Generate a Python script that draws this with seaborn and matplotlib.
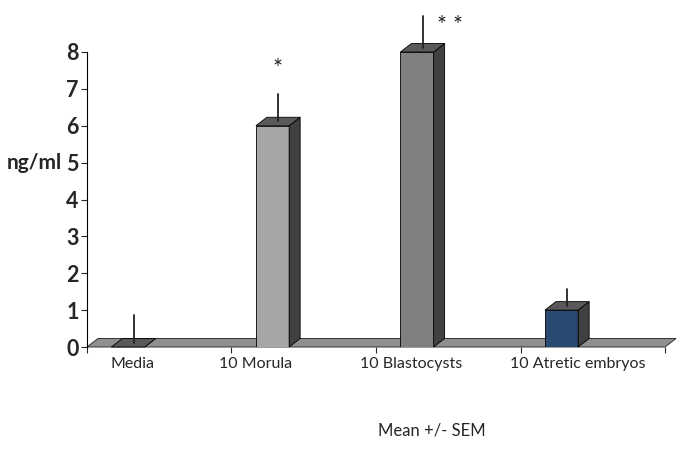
import numpy as np
import seaborn as sns
import matplotlib.pyplot as plt
from matplotlib.patches import Polygon
from matplotlib.ticker import FixedLocator

# --- 데이터 ---
categories = ["Media", "10 Morula", "10 Blastocysts", "10 Atretic embryos"]
mean_values = [0.0, 6.0, 8.0, 1.0]
sem_values = [0.75, 0.75, 0.87, 0.45]
marks = ["", "*", "* *", ""]
front_colors = ["#5a5a5a", "#a6a6a6", "#808080", "#1f497d"]

sns.set_style("white")
plt.rcParams["font.family"] = ["Lato", "DejaVu Sans"]

fig = plt.figure(figsize=(6.85, 4.5), dpi=100)
W, H = 685, 450
ax = fig.add_axes([87 / W, 1 - 347 / H, (665 - 87) / W, (347 - 52) / H])

sns.barplot(x=categories, y=mean_values, hue=categories, palette=front_colors,
            width=0.23, legend=False, ax=ax, edgecolor="black", linewidth=0.6,
            zorder=3)

x_lo, x_hi = -0.284, 3.716
ax.set_xlim(x_lo, x_hi)
ax.set_ylim(0, 8)

# 3D 깊이 (픽셀 -> 데이터 단위)
px_x = (665 - 87) / (x_hi - x_lo)
px_y = (347 - 52) / 8
dx = 11 / px_x
dy = 8.5 / px_y

# 바닥 (floor)
floor = Polygon([(x_lo, 0), (x_hi, 0), (x_hi + dx, dy), (x_lo + dx, dy)],
                closed=True, facecolor="#8f8f8f", edgecolor="#333333",
                linewidth=0.7, zorder=1, clip_on=False)
ax.add_patch(floor)

for bar, h, sem, mark in zip(ax.patches, mean_values, sem_values, marks):
    x0 = bar.get_x()
    w = bar.get_width()
    top = Polygon([(x0, h), (x0 + w, h), (x0 + w + dx, h + dy), (x0 + dx, h + dy)],
                  closed=True, facecolor="#595959", edgecolor="black",
                  linewidth=0.6, zorder=4, clip_on=False)
    side = Polygon([(x0 + w, 0), (x0 + w + dx, dy), (x0 + w + dx, h + dy), (x0 + w, h)],
                   closed=True, facecolor="#404040", edgecolor="black",
                   linewidth=0.6, zorder=4, clip_on=False)
    ax.add_patch(side)
    ax.add_patch(top)
    xc = x0 + w / 2 + dx / 2
    ax.plot([xc, xc], [h + dy / 2, h + dy / 2 + sem], color="#222222",
            linewidth=1.3, zorder=5, clip_on=False)
    if mark == "*":
        ax.text(xc, h + sem + 0.8, mark, ha="center", va="center",
                fontsize=17, color="#222222")
    elif mark:
        ax.text(xc + 0.19, h + sem - 0.15, mark, ha="center", va="center",
                fontsize=17, color="#222222")

# 축 스타일
for s in ["top", "right", "bottom"]:
    ax.spines[s].set_visible(False)
ax.spines["left"].set_color("black")
ax.spines["left"].set_linewidth(0.8)
ax.set_yticks(range(0, 9))
ax.tick_params(axis="y", left=True, length=4, width=0.8, pad=2,
               labelsize=15.5)
for lab in ax.get_yticklabels():
    lab.set_fontweight("bold")

# 3D 투영 때문에 라벨이 막대 중심에서 약간 어긋남
label_shift = [0.03, -0.12, -0.04, 0.11]
ax.set_xticks([i + s for i, s in enumerate(label_shift)])
ax.set_xticklabels(categories, fontsize=11.5)
ax.tick_params(axis="x", which="major", length=0, pad=7)
ax.xaxis.set_minor_locator(FixedLocator([x_lo + k for k in range(5)]))
ax.tick_params(axis="x", which="minor", bottom=True, length=4, width=0.8)

ax.set_xlabel("")
ax.set_ylabel("ng/ml", rotation=0, fontsize=15, fontweight="bold",
              ha="right", va="center")
ax.yaxis.set_label_coords(-0.043, 5 / 8)

fig.text(432 / W, 1 - 430 / H, "Mean +/- SEM", ha="center", va="center",
         fontsize=12)

fig.savefig("out.png", dpi=100)
